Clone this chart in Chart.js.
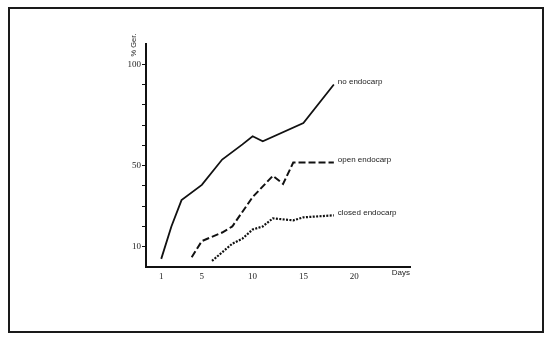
<!DOCTYPE html>
<html>
<head>
<meta charset="utf-8">
<script src="https://cdn.jsdelivr.net/npm/chart.js@4.4.1/dist/chart.umd.min.js"></script>
<style>
  html, body { margin: 0; padding: 0; background: #fff; }
  #wrap { position: relative; width: 550px; height: 340px; }
  #frame {
    position: absolute; left: 8px; top: 7px;
    width: 532px; height: 322px;
    border: 2px solid #1a1a1a;
    pointer-events: none;
  }
</style>
</head>
<body>
<div id="wrap">
  <canvas id="germChart" width="550" height="340"></canvas>
  <div id="frame"></div>
</div>
<script>
// germination (%) by day for each seed treatment
const noEndoDays = [1, 2, 3, 5, 7, 9, 10, 11, 15, 18];
const noEndoPct = [4, 20, 33, 40.5, 53, 60.5, 64.5, 62, 71, 90];

const openEndoDays = [4, 5, 7, 8, 10, 12, 13, 14, 18];
const openEndoPct = [4.8, 12.8, 17, 20, 34.5, 45, 41, 51.5, 51.5];

const closedEndoDays = [6, 8, 9, 10, 11, 12, 14, 15, 18];
const closedEndoPct = [3, 11.5, 14, 18.5, 20, 24, 23, 24.5, 25.5];

const seriesNames = ['no endocarp', 'open endocarp', 'closed endocarp'];
const dayTicks = [1, 5, 10, 15, 20];
const pctTicks = [10, 20, 30, 40, 50, 60, 70, 80, 90, 100];
const pctLabels = [10, 50, 100];

const toPoints = (xs, ys) => xs.map((x, i) => ({ x: x, y: ys[i] }));

const INK = '#111';

// curve names at the end of each line, plus axis captions
const captions = {
    id: 'captions',
    afterDatasetsDraw(chart) {
        const { ctx, scales: { x, y } } = chart;
        ctx.save();
        ctx.fillStyle = '#222';
        ctx.font = '8px "Liberation Sans", Arial, sans-serif';
        ctx.textBaseline = 'middle';
        ctx.textAlign = 'left';
        chart.data.datasets.forEach((ds) => {
            const last = ds.data[ds.data.length - 1];
            ctx.fillText(ds.label, x.getPixelForValue(last.x) + 4, y.getPixelForValue(last.y) - 2.5);
        });

        ctx.textAlign = 'right';
        ctx.textBaseline = 'top';
        ctx.fillText('Days', x.right, x.top + 2);

        ctx.translate(x.left - 12, y.top + 1);
        ctx.rotate(-Math.PI / 2);
        ctx.textAlign = 'center';
        ctx.textBaseline = 'middle';
        ctx.font = '7.5px "Liberation Sans", Arial, sans-serif';
        ctx.fillText('% Ger.', 0, 0);
        ctx.restore();
    }
};

new Chart(document.getElementById('germChart'), {
    type: 'line',
    data: {
        datasets: [
            {
                label: seriesNames[0],
                data: toPoints(noEndoDays, noEndoPct),
                borderColor: INK,
                borderWidth: 1.8
            },
            {
                label: seriesNames[1],
                data: toPoints(openEndoDays, openEndoPct),
                borderColor: INK,
                borderWidth: 2,
                borderDash: [7, 3]
            },
            {
                label: seriesNames[2],
                data: toPoints(closedEndoDays, closedEndoPct),
                borderColor: INK,
                borderWidth: 2.2,
                borderDash: [2, 1.4]
            }
        ]
    },
    options: {
        responsive: false,
        animation: false,
        events: [],
        elements: {
            point: { radius: 0 },
            line: { tension: 0, fill: false, borderCapStyle: 'butt', borderJoinStyle: 'miter' }
        },
        layout: { padding: { left: 100, right: 140, top: 44, bottom: 53 } },
        plugins: {
            legend: { display: false },
            tooltip: { enabled: false }
        },
        scales: {
            x: {
                type: 'linear',
                min: -0.5,
                max: 25.5,
                afterFit: (s) => { s.height = 20; },
                afterBuildTicks: (s) => { s.ticks = dayTicks.map(v => ({ value: v })); },
                grid: { display: false, drawTicks: false },
                border: { display: true, color: INK, width: 2 },
                ticks: {
                    padding: 4,
                    color: '#222',
                    font: { family: '"Liberation Serif", serif', size: 9 },
                    maxRotation: 0
                }
            },
            y: {
                type: 'linear',
                min: 0,
                max: 110,
                afterFit: (s) => { s.width = 46; },
                afterBuildTicks: (s) => { s.ticks = pctTicks.map(v => ({ value: v })); },
                grid: {
                    drawOnChartArea: false,
                    drawTicks: true,
                    tickLength: 4,
                    tickColor: INK,
                    tickWidth: 1
                },
                border: { display: true, color: INK, width: 2 },
                ticks: {
                    padding: 1,
                    color: '#222',
                    font: { family: '"Liberation Serif", serif', size: 9 },
                    callback: (v) => pctLabels.includes(v) ? String(v) : ''
                }
            }
        }
    },
    plugins: [captions]
});
</script>
</body>
</html>
